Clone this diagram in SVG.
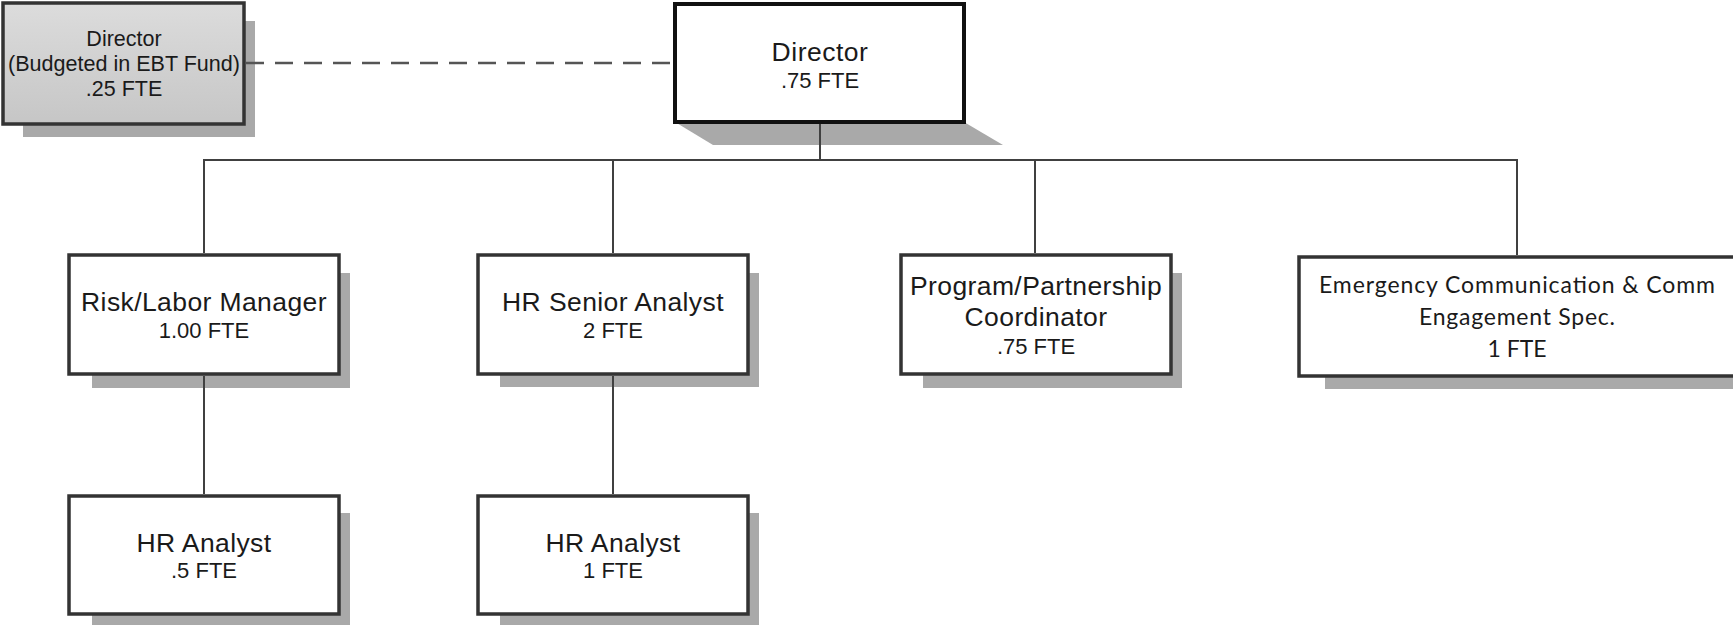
<svg xmlns="http://www.w3.org/2000/svg" width="1733" height="625" viewBox="0 0 1733 625">
<defs>
<linearGradient id="grayfill" x1="0" y1="0" x2="0" y2="1">
<stop offset="0" stop-color="#dcdcdc"/>
<stop offset="1" stop-color="#c6c6c6"/>
</linearGradient>
<style>
.shadow{fill:#a9a9a9}
.box{fill:#ffffff;stroke:#333333;stroke-width:3.5}
.boxg{fill:url(#grayfill);stroke:#333333;stroke-width:3.5}
.boxm{fill:#ffffff;stroke:#111111;stroke-width:4}
.t{font-family:"Liberation Sans",Arial,sans-serif;fill:#1a1a1a;text-anchor:middle}
.c{font-family:Lato,"Open Sans",sans-serif;fill:#1a1a1a;text-anchor:middle}
.l1{font-size:26.5px;letter-spacing:0.4px}
.l2{font-size:22px}
.conn{stroke:#404040;stroke-width:2;fill:none}
.dash{stroke:#555555;stroke-width:2.5;fill:none;stroke-dasharray:18 11}
</style>
</defs>
<rect width="1733" height="625" fill="#ffffff"/>

<g id="node-director-ebt">
<rect class="shadow" x="23" y="21" width="232" height="116"/>
<rect class="boxg" x="3" y="3" width="241" height="121"/>
<text class="t" x="124" y="46" font-size="21.5">Director</text>
<text class="t" x="124" y="71" font-size="21.5" textLength="232" lengthAdjust="spacingAndGlyphs">(Budgeted in EBT Fund)</text>
<text class="t" x="124" y="96" font-size="21.5">.25 FTE</text>
</g>

<g id="node-director">
<polygon class="shadow" points="675,122 964,122 1003,145 713,145"/>
<rect class="boxm" x="675" y="4" width="289" height="118"/>
<text class="t" x="820" y="61" font-size="26.5" letter-spacing="0.5">Director</text>
<text class="t" x="820" y="88" font-size="22">.75 FTE</text>
</g>

<g id="node-risk-labor">
<rect class="shadow" x="92" y="273" width="258" height="115"/>
<rect class="box" x="69" y="255" width="270" height="119"/>
<text class="t l1" x="204" y="311">Risk/Labor Manager</text>
<text class="t l2" x="204" y="338">1.00 FTE</text>
</g>

<g id="node-hr-senior">
<rect class="shadow" x="500" y="273" width="259" height="114"/>
<rect class="box" x="478" y="255" width="270" height="119"/>
<text class="t l1" x="613" y="311">HR Senior Analyst</text>
<text class="t l2" x="613" y="338">2 FTE</text>
</g>

<g id="node-program">
<rect class="shadow" x="923" y="273" width="259" height="115"/>
<rect class="box" x="901" y="255" width="270" height="119"/>
<text class="t l1" x="1036" y="295">Program/Partnership</text>
<text class="t l1" x="1036" y="326">Coordinator</text>
<text class="t l2" x="1036" y="354">.75 FTE</text>
</g>

<g id="node-emergency">
<rect class="shadow" x="1325" y="275" width="420" height="114"/>
<rect class="box" x="1299" y="257" width="440" height="119"/>
<text class="c" x="1517" y="293" font-size="23" textLength="396" lengthAdjust="spacing">Emergency Communication &amp; Comm</text>
<text class="c" x="1517" y="325" font-size="23" textLength="196" lengthAdjust="spacing">Engagement Spec.</text>
<text class="c" x="1517" y="357" font-size="23">1 FTE</text>
</g>

<g id="node-hr-analyst-05">
<rect class="shadow" x="92" y="513" width="258" height="120"/>
<rect class="box" x="69" y="496" width="270" height="118"/>
<text class="t l1" x="204" y="552">HR Analyst</text>
<text class="t l2" x="204" y="578">.5 FTE</text>
</g>

<g id="node-hr-analyst-1">
<rect class="shadow" x="500" y="513" width="259" height="120"/>
<rect class="box" x="478" y="496" width="270" height="118"/>
<text class="t l1" x="613" y="552">HR Analyst</text>
<text class="t l2" x="613" y="578">1 FTE</text>
</g>

<g id="connectors">
<line class="dash" x1="246" y1="63" x2="673" y2="63"/>
<line class="conn" x1="820" y1="124" x2="820" y2="160"/>
<line class="conn" x1="204" y1="160" x2="1517" y2="160"/>
<line class="conn" x1="204" y1="159" x2="204" y2="253"/>
<line class="conn" x1="613" y1="160" x2="613" y2="253"/>
<line class="conn" x1="1035" y1="160" x2="1035" y2="253"/>
<line class="conn" x1="1517" y1="159" x2="1517" y2="255"/>
<line class="conn" x1="204" y1="376" x2="204" y2="494"/>
<line class="conn" x1="613" y1="376" x2="613" y2="494"/>
</g>
</svg>
